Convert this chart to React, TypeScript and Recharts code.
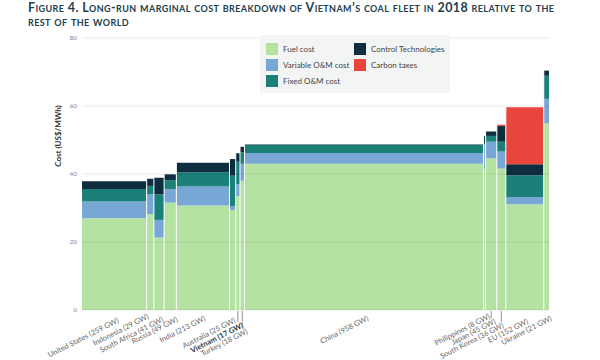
import React from 'react'
import { ComposedChart, XAxis, YAxis, ReferenceArea, ReferenceLine, Line, Label } from 'recharts'

// capacity-weighted cost stack, US$/MWh
const countries = [
  'United States', 'Indonesia', 'South Africa', 'Russia', 'India', 'Australia', 'Vietnam',
  'Turkey', 'China', 'Philippines', 'Japan', 'South Korea', 'EU', 'Ukraine',
]
const capacityGW = [259, 29, 41, 49, 213, 25, 17, 18, 958, 8, 45, 36, 152, 21]
const fuelCost = [27.0, 28.2, 21.3, 31.6, 30.7, 29.4, 33.5, 38.0, 43.0, 41.2, 44.6, 41.6, 31.1, 54.9]
const variableOM = [4.9, 5.9, 5.2, 4.0, 5.6, 1.2, 3.5, 5.0, 3.2, 7.4, 4.9, 5.0, 2.1, 7.2]
const fixedOM = [3.7, 2.4, 7.5, 2.6, 4.2, 8.9, 6.6, 3.4, 2.3, 0.5, 1.7, 2.9, 6.4, 6.8]
const controlTech = [2.3, 2.1, 4.9, 1.7, 2.8, 4.9, 2.5, 1.6, 0.2, 2.1, 1.3, 4.6, 3.3, 1.5]
const carbonTax = [0, 0, 0, 0, 0, 0, 0, 0, 0, 0, 0, 0.4, 16.7, 0]
const yTicks = [0, 20, 40, 60, 80]

const series = [
  { name: 'Fuel cost', color: '#b4e2a2', values: fuelCost },
  { name: 'Variable O&M cost', color: '#79a7d5', values: variableOM },
  { name: 'Fixed O&M cost', color: '#1a8078', values: fixedOM },
  { name: 'Control Technologies', color: '#0e2d3f', values: controlTech },
  { name: 'Carbon taxes', color: '#e8463c', values: carbonTax },
]

// label nudges for the crowded narrow bars
const labelDx = [5, -1, 5, 8, 3, 3.5, 6, 6, 5, 6, 5, 3, 4, 6]
const labelDy = [12, 8, 11, 11, 10, 12, 17, 23, 10, 8, 13, 17, 13, 10]
const hasLeader = [false, false, false, false, false, false, true, true, false, false, true, true, false, false]

const totalGW = capacityGW.reduce((a, b) => a + b, 0)

const bars = capacityGW.map((gw, i) => {
  const start = capacityGW.slice(0, i).reduce((a, b) => a + b, 0)
  let base = 0
  const parts = series.map((s) => {
    const y0 = base
    base += s.values[i]
    return { y0, y1: base, color: s.color, value: s.values[i] }
  })
  return { country: countries[i], gw, start, end: start + gw, mid: start + gw / 2, top: base, parts }
})

function CountryTick(props: any) {
  const { x, y, index } = props
  const b = bars[index]
  if (!b) return null
  const ax = x + labelDx[index]
  const ay = y + labelDy[index]
  const isVn = b.country === 'Vietnam'
  return (
    <g>
      {hasLeader[index] && (
        <line x1={x} x2={x} y1={y + 1} y2={ay - 5} stroke="#777" strokeWidth={0.8} />
      )}
      <text
        x={ax}
        y={ay}
        textAnchor="end"
        transform={`rotate(-27 ${ax} ${ay})`}
        fontSize={7.5}
        fontFamily="Lato, sans-serif"
        fontWeight={isVn ? 700 : 400}
        fill={isVn ? '#333' : '#666'}
      >
        {`${b.country} (${b.gw} GW)`}
      </text>
    </g>
  )
}

function LegendBox() {
  return (
    <div
      style={{
        position: 'absolute',
        left: 260,
        top: 35,
        background: '#f3f4f4',
        width: 190,
        height: 58,
        display: 'grid',
        gridTemplateRows: 'repeat(3, 16px)',
        gridTemplateColumns: '88px 100px',
        gridAutoFlow: 'column',
        padding: '6px 0 0 6px',
        boxSizing: 'border-box',
        fontFamily: 'Lato, sans-serif',
        fontSize: 8,
        color: '#444',
      }}
    >
      {series.map((s) => (
        <div key={s.name} style={{ display: 'flex', alignItems: 'center' }}>
          <span style={{ width: 12, height: 12, background: s.color, marginRight: 5, display: 'inline-block' }} />
          {s.name}
        </div>
      ))}
    </div>
  )
}

function YTitle(props: any) {
  const { viewBox } = props
  const cx = viewBox.x + 9
  const cy = viewBox.y + viewBox.height / 2 - 38
  return (
    <text
      x={cx}
      y={cy}
      transform={`rotate(-90 ${cx} ${cy})`}
      textAnchor="middle"
      fontSize={8}
      fontWeight={700}
      fontFamily="Lato, sans-serif"
      fill="#333"
    >
      Cost (US$/MWh)
    </text>
  )
}

export default function App() {
  return (
    <div style={{ position: 'fixed', left: 0, top: 0, width: 600, height: 360, background: '#fff' }}>
      <div
        style={{
          position: 'absolute',
          left: 28,
          top: 1,
          width: 572,
          whiteSpace: 'nowrap',
          fontFamily: 'Lato, sans-serif',
          fontWeight: 700,
          fontVariant: 'small-caps',
          fontSize: 12.5,
          letterSpacing: 0.4,
          lineHeight: '14px',
          color: '#22404d',
        }}
      >
        Figure 4. Long-run marginal cost breakdown of Vietnam’s coal fleet in 2018 relative to the
        <br />
        rest of the world
      </div>
      <div style={{ position: 'absolute', left: 0, top: 0 }}>
        <ComposedChart
          width={600}
          height={360}
          data={bars}
          margin={{ top: 38, right: 51, bottom: 10, left: 52 }}
        >
          <XAxis
            type="number"
            dataKey="mid"
            domain={[0, totalGW]}
            ticks={bars.map((b) => b.mid)}
            interval={0}
            tick={<CountryTick />}
            tickLine={false}
            axisLine={false}
            tickSize={0}
            tickMargin={0}
            height={40}
          />
          <YAxis
            type="number"
            domain={[0, 80]}
            ticks={yTicks}
            tick={{ fontSize: 6.5, fill: '#888', fontFamily: 'Lato, sans-serif' }}
            tickLine={false}
            axisLine={false}
            tickSize={0}
            tickMargin={5}
            width={30}
          >
            <Label content={<YTitle />} />
          </YAxis>
          <Line dataKey="top" stroke="none" dot={false} activeDot={false} isAnimationActive={false} />
          {bars.flatMap((b) =>
            b.parts
              .filter((p) => p.value > 0)
              .map((p, j) => (
                <ReferenceArea
                  key={`${b.country}-${j}`}
                  x1={b.start}
                  x2={b.end}
                  y1={p.y0}
                  y2={p.y1}
                  fill={p.color}
                  fillOpacity={1}
                  stroke="none"
                  ifOverflow="visible"
                />
              ))
          )}
          {bars.slice(1).map((b, i) => (
            <ReferenceLine
              key={`sep-${b.country}`}
              segment={[
                { x: b.start, y: 0 },
                { x: b.start, y: Math.max(b.top, bars[i].top) },
              ]}
              stroke="#fff"
              strokeWidth={1}
              ifOverflow="visible"
            />
          ))}
          {yTicks.map((t) => (
            <ReferenceLine key={`grid-${t}`} y={t} stroke="rgba(0,0,0,0.09)" strokeWidth={1} />
          ))}
        </ComposedChart>
      </div>
      <LegendBox />
    </div>
  )
}
